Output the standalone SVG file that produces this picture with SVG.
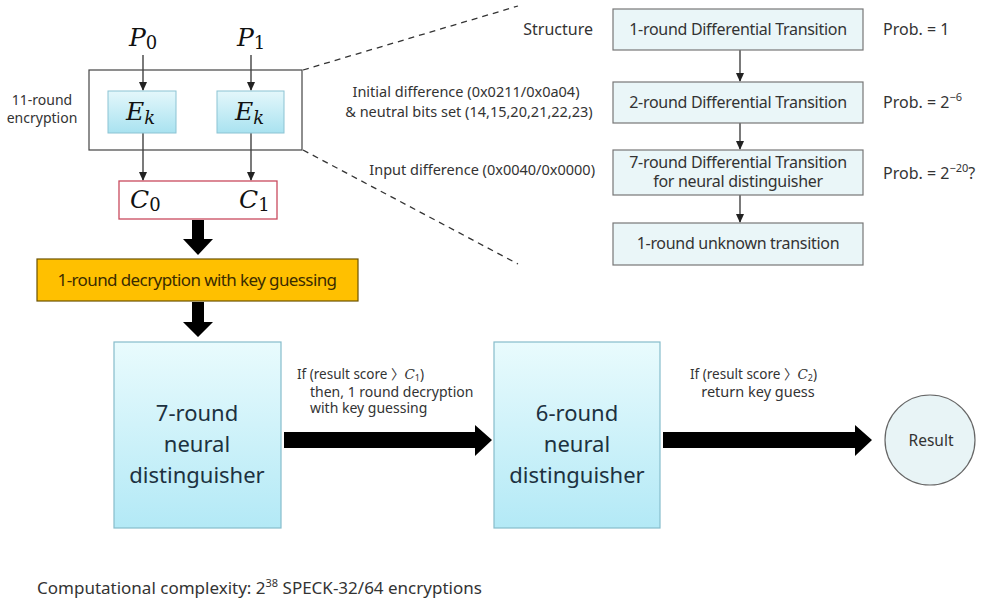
<svg xmlns="http://www.w3.org/2000/svg" width="986" height="602" viewBox="0 0 986 602">
<style>
text{font-family:"Noto Sans","Noto Sans CJK KR",sans-serif;fill:#333}
.m{font-family:"DejaVu Serif","Liberation Serif",serif;font-style:italic;font-size:25px;fill:#111}
.sub{font-style:normal;font-size:18px}
.subi{font-size:18px}
.lbl{font-size:14px}
.rb{fill:#eaf6f8;stroke:#777;stroke-width:1.2}
.rt{font-size:16px;letter-spacing:-0.3px}
.pr{font-size:16px}
.big{font-size:22px;fill:#1c3140}
.thin{stroke:#222;stroke-width:1.2;fill:none}
.dash{stroke:#333;stroke-width:1.3;stroke-dasharray:6 5;fill:none}
</style>
<defs>
<marker id="ah" markerWidth="10" markerHeight="10" refX="8" refY="5" orient="auto" markerUnits="userSpaceOnUse">
<path d="M0,1 L9,5 L0,9 Z" fill="#222"/>
</marker>
<linearGradient id="gs" x1="0" y1="0" x2="0" y2="1">
<stop offset="0" stop-color="#e4f7fb"/><stop offset="1" stop-color="#a9e2f0"/>
</linearGradient>
<linearGradient id="gb" x1="0" y1="0" x2="0" y2="1">
<stop offset="0" stop-color="#e9fbfd"/><stop offset="1" stop-color="#b3e9f6"/>
</linearGradient>
</defs>

<g id="connectors">
<line class="thin" x1="143" y1="55" x2="143" y2="90" marker-end="url(#ah)"/>
<line class="thin" x1="251" y1="55" x2="251" y2="90" marker-end="url(#ah)"/>
<line class="thin" x1="143" y1="133" x2="143" y2="180" marker-end="url(#ah)"/>
<line class="thin" x1="251" y1="133" x2="251" y2="180" marker-end="url(#ah)"/>
<line class="dash" x1="303" y1="70" x2="518" y2="6"/>
<line class="dash" x1="303" y1="150" x2="518" y2="264"/>
<line class="thin" x1="740" y1="50" x2="740" y2="81" marker-end="url(#ah)"/>
<line class="thin" x1="740" y1="123" x2="740" y2="149" marker-end="url(#ah)"/>
<line class="thin" x1="740" y1="195" x2="740" y2="222" marker-end="url(#ah)"/>
<path d="M192,220 H204 V239 H213 L198,255 L183,239 H192 Z" fill="#000"/>
<path d="M192,302 H204 V322 H213 L198,337 L183,322 H192 Z" fill="#000"/>
<path d="M284,432 H475 V425 L492,440 L475,456 V448 H284 Z" fill="#000"/>
<path d="M663,432 H855 V425 L872,440 L855,456 V448 H663 Z" fill="#000"/>
</g>

<g id="p0"><text class="m" x="129" y="46">P<tspan class="sub" dy="3">0</tspan></text></g>
<g id="p1"><text class="m" x="237" y="46">P<tspan class="sub" dy="3">1</tspan></text></g>

<g id="enc">
<rect x="89" y="70" width="213" height="80" fill="none" stroke="#444" stroke-width="1.2"/>
<text class="lbl" x="42" y="105" text-anchor="middle">11-round</text>
<text class="lbl" x="42" y="123" text-anchor="middle">encryption</text>
</g>
<g id="ek0">
<rect x="108" y="91" width="68" height="42" fill="url(#gs)" stroke="#8cc3d3" stroke-width="1"/>
<text class="m" x="126" y="120">E<tspan class="subi" dy="4">k</tspan></text>
</g>
<g id="ek1">
<rect x="217" y="91" width="67" height="42" fill="url(#gs)" stroke="#8cc3d3" stroke-width="1"/>
<text class="m" x="235" y="120">E<tspan class="subi" dy="4">k</tspan></text>
</g>
<g id="cbox">
<rect x="119" y="181" width="158" height="38" fill="#fff" stroke="#c94a5e" stroke-width="1.3"/>
<text class="m" x="130" y="208">C<tspan class="sub" dy="3">0</tspan></text>
<text class="m" x="239" y="208">C<tspan class="sub" dy="3">1</tspan></text>
</g>

<g id="dec1">
<rect x="37" y="259" width="321" height="42" fill="#ffc000" stroke="#6b5200" stroke-width="1.2"/>
<text x="197" y="286" text-anchor="middle" font-size="17" letter-spacing="-0.6" style="fill:#3b2c00">1-round decryption with key guessing</text>
</g>

<g id="nd7">
<rect x="114" y="342" width="167" height="186" fill="url(#gb)" stroke="#86bccb" stroke-width="1.2"/>
<text class="big" x="197" y="421" text-anchor="middle">7-round</text>
<text class="big" x="197" y="452" text-anchor="middle">neural</text>
<text class="big" x="197" y="483" text-anchor="middle">distinguisher</text>
</g>
<g id="nd6">
<rect x="494" y="342" width="166" height="186" fill="url(#gb)" stroke="#86bccb" stroke-width="1.2"/>
<text class="big" x="577" y="421" text-anchor="middle">6-round</text>
<text class="big" x="577" y="452" text-anchor="middle">neural</text>
<text class="big" x="577" y="483" text-anchor="middle">distinguisher</text>
</g>
<g id="result">
<circle cx="930" cy="440" r="45" fill="#e8f4f6" stroke="#666" stroke-width="1.2"/>
<text x="931" y="446" text-anchor="middle" font-size="15.5">Result</text>
</g>

<g id="labels">
<text x="297" y="379" font-size="13.5">If (result score 〉<tspan font-family="DejaVu Serif,serif" font-style="italic">C</tspan><tspan font-size="9" dy="2">1</tspan><tspan dy="-2">)</tspan></text>
<text x="310" y="397" font-size="14">then, 1 round decryption</text>
<text x="310" y="413" font-size="14">with key guessing</text>
<text x="690" y="379" font-size="13.5">If (result score 〉<tspan font-family="DejaVu Serif,serif" font-style="italic">C</tspan><tspan font-size="9" dy="2">2</tspan><tspan dy="-2">)</tspan></text>
<text x="758" y="397" font-size="14.5" text-anchor="middle">return key guess</text>
<text x="593" y="35" font-size="16" text-anchor="end">Structure</text>
<text x="466" y="97" font-size="14.5" text-anchor="middle">Initial difference (0x0211/0x0a04)</text>
<text x="469" y="117" font-size="14.5" text-anchor="middle">&amp; neutral bits set (14,15,20,21,22,23)</text>
<text x="595" y="175" font-size="14.5" text-anchor="end">Input difference (0x0040/0x0000)</text>
<text x="37" y="594" font-size="17">Computational complexity: 2<tspan font-size="11" dy="-7">38</tspan><tspan dy="7"> SPECK-32/64 encryptions</tspan></text>
</g>

<g id="t1">
<rect class="rb" x="613" y="9" width="250" height="41"/>
<text class="rt" x="738" y="35" text-anchor="middle">1-round Differential Transition</text>
<text class="pr" x="883" y="35">Prob. = 1</text>
</g>
<g id="t2">
<rect class="rb" x="613" y="82" width="250" height="41"/>
<text class="rt" x="738" y="108" text-anchor="middle">2-round Differential Transition</text>
<text class="pr" x="883" y="108">Prob. = 2<tspan font-size="11" dy="-7">−6</tspan></text>
</g>
<g id="t3">
<rect class="rb" x="613" y="150" width="250" height="45"/>
<text class="rt" x="738" y="168" text-anchor="middle">7-round Differential Transition</text>
<text class="rt" x="738" y="187" text-anchor="middle">for neural distinguisher</text>
<text class="pr" x="883" y="179">Prob. = 2<tspan font-size="11" dy="-7">−20</tspan><tspan dy="7">?</tspan></text>
</g>
<g id="t4">
<rect class="rb" x="613" y="223" width="250" height="42"/>
<text class="rt" x="738" y="249" text-anchor="middle">1-round unknown transition</text>
</g>
</svg>
